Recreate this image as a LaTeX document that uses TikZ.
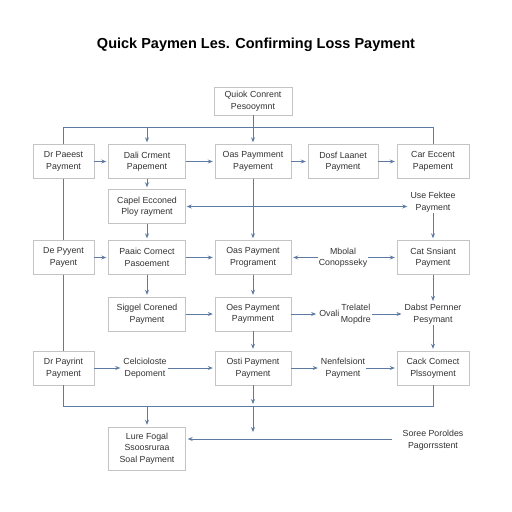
\documentclass[tikz,border=0pt]{standalone}
\usepackage{fontspec}
\setmainfont{Liberation Sans}
\usepackage{tikz}
\usetikzlibrary{positioning}
\usetikzlibrary{arrows.meta}
\definecolor{flowblue}{RGB}{92,122,162}
\definecolor{boxgray}{RGB}{196,196,196}
\definecolor{textgray}{RGB}{50,50,50}
\tikzset{
  box/.style={draw=boxgray, fill=white, align=center, inner sep=1pt,
    text=textgray, font=\fontsize{8.8}{11.5}\selectfont, minimum height=34pt},
  label/.style={align=center, inner sep=1pt, text=textgray,
    font=\fontsize{8.8}{11.5}\selectfont},
  flow/.style={draw=flowblue, line width=0.8pt},
  arr/.style={flow, -{Stealth[length=5pt,width=4pt]}, shorten >=2pt},
}
\begin{document}
\begin{tikzpicture}[x=1pt,y=-1pt]
    \useasboundingbox (0,0) rectangle (512,512);

    % Title
    \node[font=\fontsize{14.5}{16}\selectfont\bfseries, text=black] (title) at (256,45)
        {Quick Paymen Les. Confirming Loss Payment};

    % Top box
    \node[box, minimum width=78pt, minimum height=28pt] (top) at (253,101)
        {Quiok Conrent\\Pesooymnt};

    % Row 1
    \node[box, minimum width=61pt] (a1) at (63.5,161.5) {Dr Paeest\\Payment};
    \node[box, minimum width=77pt] (b1) at (147,161.5) {Dali Crment\\Papement};
    \node[box, minimum width=76pt] (c1) at (253,161.5) {Oas Paymment\\Payement};
    \node[box, minimum width=70pt] (d1) at (343,161.5) {Dosf Laanet\\Payment};
    \node[box, minimum width=72pt] (e1) at (433,161.5) {Car Eccent\\Papement};

    % Between rows 1 and 2
    \node[box, minimum width=77pt] (bx) at (147,206.5) {Capel Ecconed\\Ploy rayment};
    \node[label] (ex) at (433,202) {Use Fektee\\Payment};

    % Row 2
    \node[box, minimum width=61pt] (a2) at (63.5,257.5) {De Pyyent\\Payent};
    \node[box, minimum width=77pt] (b2) at (147,257.5) {Paaic Cornect\\Pasoement};
    \node[box, minimum width=76pt] (c2) at (253,257.5) {Oas Payment\\Programent};
    \node[label] (d2) at (343,257.5) {Mbolal\\Conopsseky};
    \node[box, minimum width=72pt] (e2) at (433,257.5) {Cat Snsiant\\Payment};

    % Row 3
    \node[box, minimum width=77pt] (b3) at (147,314) {Siggel Corened\\Payment};
    \node[box, minimum width=76pt] (c3) at (253,314) {Oes Payment\\Paymment};
    \node[label] (d3) at (345,314)
        {Ovali\,\begin{tabular}{@{}c@{}}Trelatel\\Mopdre\end{tabular}};
    \node[label] (e3) at (433,314) {Dabst Pernner\\Pesymant};

    % Row 4
    \node[box, minimum width=61pt] (a4) at (63.5,368) {Dr Payrint\\Payment};
    \node[label] (b4) at (145,368) {Celcioloste\\Depoment};
    \node[box, minimum width=76pt] (c4) at (253,368) {Osti Payment\\Payment};
    \node[label] (d4) at (343,368) {Nenfelsiont\\Payment};
    \node[box, minimum width=72pt] (e4) at (433,368) {Cack Comect\\Plssoyment};

    % Bottom
    \node[box, minimum width=77pt, minimum height=43pt] (bot) at (147,448.5)
        {Lure Fogal\\Ssoosruraa\\Soal Payment};
    \node[label] (sr) at (433,440) {Soree Poroldes\\Pagorrsstent};

    % Bus coordinates
    \coordinate (tbus) at (253,127);
    \coordinate (tl) at (63.5,127);
    \coordinate (tr) at (433,127);
    \coordinate (bl) at (63.5,406);
    \coordinate (br) at (433,406);
    \coordinate (bc) at (253,406);
    \coordinate (bs) at (147,406);
    \coordinate (cend) at (253,434);
    \coordinate (sline) at (392,439);

    % Top bus
    \draw[flow] (top) -- (tbus);
    \draw[flow] (a1.north) -- (tl) -- (tr) -- (e1.north);
    \draw[arr] (b1.north |- tl) -- (b1);
    \draw[arr] (tbus) -- (c1);

    % Row 1 arrows
    \draw[arr] (a1) -- (b1);
    \draw[arr] (b1) -- (c1);
    \draw[arr] (c1) -- (d1);
    \draw[arr] (d1) -- (e1);

    % Column 1 line
    \draw[flow] (a1) -- (a2);
    \draw[flow] (a2) -- (a4);
    \draw[flow] (a4) -- (bl) -- (br) -- (e4);

    % Column 2
    \draw[arr] (b1) -- (bx);
    \draw[arr] (bx) -- (b2);
    \draw[arr] (b2) -- (b3);
    \draw[flow, {Stealth[length=5pt,width=4pt]}-{Stealth[length=5pt,width=4pt]},
        shorten >=2pt, shorten <=1pt] (bx.east) -- (bx.east -| ex.west);

    % Column 3
    \draw[arr] (c1) -- (c2);
    \draw[arr] (c2) -- (c3);
    \draw[arr] (c3) -- (c4);
    \draw[arr] (c4) -- (bc);
    \draw[arr] (bc) -- (cend);

    % Column 5
    \draw[arr] (ex) -- (e2);
    \draw[arr] (e2) -- (e3);
    \draw[arr] (e3) -- (e4);

    % Row 2 arrows
    \draw[arr] (a2) -- (b2);
    \draw[arr] (b2) -- (c2);
    \draw[arr] (d2) -- (c2);
    \draw[arr] (d2) -- (e2);

    % Row 3 arrows
    \draw[arr] (b3) -- (c3);
    \draw[arr] (c3) -- (d3);
    \draw[arr] (d3) -- (e3);

    % Row 4 arrows
    \draw[arr] (a4) -- (b4);
    \draw[arr] (b4) -- (c4);
    \draw[arr] (c4) -- (d4);
    \draw[arr] (d4) -- (e4);

    % Bottom arrows
    \draw[arr] (bs) -- (bot);
    \draw[arr] (sline) -- (sline -| bot.east);
\end{tikzpicture}
\end{document}
